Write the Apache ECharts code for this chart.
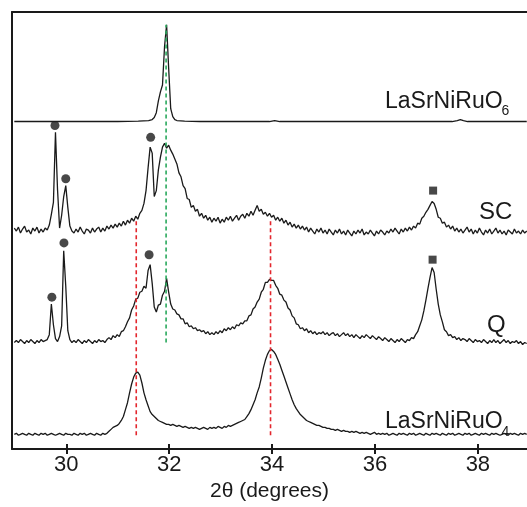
<!DOCTYPE html>
<html>
<head>
<meta charset="utf-8">
<script src="https://cdn.jsdelivr.net/npm/echarts@6/dist/echarts.min.js"></script>
<style>
  html, body { margin: 0; padding: 0; background: #ffffff; }
  #chart { width: 527px; height: 507px; }
</style>
</head>
<body>
<div id="chart"></div>
<script>
// XRD patterns, offset vertically (arbitrary intensity units).
// Scans share a uniform 2θ grid: start + step * index.
const twoThetaStart = 28.99;
const twoThetaStep = 0.04;
const xTicks = [30, 32, 34, 36, 38];

// LaSrNiRuO6 reference pattern (smooth), [2θ, intensity]
const lsnro6Points = [
  [28.99, 332], [29.5, 332], [30.0, 332], [30.5, 332], [31.0, 332], [31.4, 332.5],
  [31.6, 333], [31.67, 334], [31.71, 336], [31.75, 341], [31.79, 353], [31.83, 362],
  [31.87, 369], [31.91, 408], [31.95, 430], [31.99, 386], [32.03, 345], [32.07, 337],
  [32.11, 334], [32.15, 333], [32.3, 332.5], [32.6, 332], [33.5, 332], [33.95, 332],
  [34.05, 333], [34.15, 332], [35.0, 332], [36.0, 332], [37.5, 332], [37.6, 333],
  [37.66, 334], [37.72, 333], [37.8, 332], [38.95, 332]
];

// SC sample
const scCounts = [
  224, 221, 225, 219, 223, 226, 220, 222, 218, 224,
  221, 225, 219, 223, 220, 224, 222, 227, 238, 250,
  321, 263, 224, 237, 256, 267, 245, 226, 221, 219,
  223, 220, 225, 221, 218, 223, 222, 219, 224, 220,
  223, 225, 220, 224, 221, 226, 223, 227, 224, 228,
  225, 229, 226, 231, 227, 232, 229, 234, 231, 236,
  233, 239, 242, 249, 262, 285, 306, 300, 256, 262,
  283, 296, 306, 310, 305, 308, 303, 299, 294, 289,
  280, 276, 267, 264, 254, 253, 245, 247, 241, 243,
  236, 239, 234, 237, 232, 235, 230, 234, 231, 235,
  229, 233, 230, 235, 232, 236, 231, 234, 237, 232,
  236, 238, 234, 239, 236, 241, 237, 242, 247, 241,
  243, 238, 240, 236, 239, 235, 237, 232, 235, 231,
  234, 229, 232, 227, 230, 225, 228, 224, 227, 223,
  226, 222, 225, 220, 224, 221, 218, 223, 220, 224,
  219, 222, 218, 223, 220, 217, 222, 219, 223, 218,
  221, 217, 222, 219, 216, 221, 218, 222, 219, 223,
  217, 220, 218, 222, 219, 216, 221, 218, 222, 220,
  217, 221, 219, 223, 220, 224, 221, 218, 223, 220,
  224, 221, 225, 222, 226, 224, 229, 228, 234, 236,
  240, 243, 247, 251, 249, 243, 235, 234, 229, 230,
  225, 227, 223, 226, 221, 224, 220, 223, 219, 222,
  225, 220, 223, 218, 222, 219, 224, 220, 217, 222,
  219, 223, 218, 221, 224, 219, 222, 218, 221, 217,
  222, 220, 218, 223, 219, 221, 218, 222, 219, 221
];

// Q sample
const qCounts = [
  108, 110, 108, 111, 109, 107, 110, 108, 111, 109,
  107, 110, 108, 111, 109, 110, 111, 116, 147, 126,
  112, 109, 114, 125, 201, 165, 120, 111, 108, 110,
  108, 111, 109, 107, 110, 108, 111, 109, 107, 110,
  108, 111, 109, 110, 108, 111, 113, 111, 115, 113,
  116, 114, 119, 120, 124, 129, 133, 141, 145, 152,
  153, 159, 160, 165, 163, 181, 187, 168, 144, 139,
  146, 147, 156, 160, 173, 159, 147, 142, 141, 137,
  136, 132, 132, 127, 128, 124, 125, 122, 123, 120,
  121, 119, 120, 117, 119, 116, 118, 116, 119, 117,
  120, 118, 122, 120, 123, 121, 124, 122, 126, 125,
  128, 127, 130, 130, 135, 136, 142, 144, 149, 152,
  159, 162, 169, 169, 172, 171, 171, 166, 163, 157,
  156, 151, 149, 143, 141, 135, 133, 127, 126, 122,
  123, 120, 122, 118, 120, 117, 119, 116, 118, 117,
  119, 116, 118, 115, 117, 118, 115, 117, 114, 116,
  118, 115, 117, 114, 116, 113, 116, 114, 112, 115,
  113, 116, 114, 112, 115, 113, 111, 114, 112, 110,
  113, 111, 109, 112, 110, 108, 111, 109, 112, 110,
  108, 111, 110, 113, 112, 116, 119, 125, 131, 140,
  151, 163, 174, 184, 179, 162, 147, 136, 129, 121,
  119, 115, 116, 113, 114, 111, 113, 110, 112, 111,
  109, 112, 110, 108, 111, 109, 110, 108, 111, 109,
  107, 110, 108, 111, 108, 110, 107, 109, 111, 108,
  110, 107, 109, 108, 110, 107, 109, 106, 108, 107
];

// LaSrNiRuO4 reference pattern
const lsnro4Counts = [
  15, 16, 14, 15, 16, 15, 14, 16, 15, 14,
  16, 15, 14, 16, 15, 16, 14, 15, 16, 15,
  14, 15, 16, 15, 14, 16, 15, 15, 14, 16,
  15, 14, 16, 15, 16, 14, 15, 16, 15, 14,
  16, 15, 14, 16, 15, 16, 18, 20, 22, 23,
  24, 26, 29, 33, 40, 47, 57, 66, 73, 77,
  78, 75, 67, 57, 50, 44, 38, 35, 33, 31,
  29, 28, 27, 26, 25, 25, 24, 25, 24, 23,
  24, 23, 22, 23, 22, 21, 22, 21, 22, 21,
  20, 21, 22, 21, 20, 22, 21, 22, 21, 23,
  22, 21, 23, 22, 24, 23, 24, 25, 26, 27,
  28, 29, 30, 33, 36, 40, 45, 50, 57, 63,
  72, 82, 90, 96, 100, 101, 99, 96, 91, 86,
  80, 74, 68, 62, 56, 50, 45, 41, 38, 35,
  33, 31, 29, 28, 27, 26, 25, 24, 24, 23,
  22, 22, 21, 21, 20, 20, 19, 20, 19, 18,
  19, 18, 18, 17, 18, 17, 18, 17, 16, 17,
  16, 17, 16, 15, 16, 17, 15, 16, 15, 16,
  15, 16, 14, 15, 16, 15, 14, 16, 15, 16,
  15, 14, 16, 15, 16, 14, 15, 16, 15, 14,
  16, 15, 14, 16, 15, 16, 15, 14, 16, 15,
  14, 16, 15, 16, 14, 15, 16, 15, 14, 16,
  15, 16, 14, 15, 16, 15, 14, 16, 15, 16,
  15, 14, 16, 15, 16, 15, 14, 15, 16, 15,
  14, 16, 15, 16, 15, 14, 16, 15, 16, 15
];

// Guide lines (2θ positions and vertical extent)
const redGuides = [31.36, 33.97];
const redGuideSpan = [14, 234];
const greenGuides = [31.94];
const greenGuideSpan = [108, 430];

// Impurity reflections: circles and squares above peaks
const circleMarks = [[29.78, 328], [29.99, 274], [31.64, 316], [29.72, 154], [29.955, 209], [31.61, 197]];
const squareMarks = [[37.13, 262], [37.12, 192]];

const FONT = '"Liberation Sans", Arial, Helvetica, sans-serif';
const INK = '#1a1a1a';

const onGrid = counts => counts.map((v, i) => [+(twoThetaStart + twoThetaStep * i).toFixed(2), v]);

const traceStyle = { color: INK, width: 1.3 };
function trace(name, data) {
  return { name, type: 'line', data, symbol: 'none', showSymbol: false,
           lineStyle: traceStyle, z: 3, silent: true };
}
function guide(x, span, color) {
  return { type: 'line', data: [[x, span[0]], [x, span[1]]], symbol: 'none',
           lineStyle: { color, width: 1.6, type: [4, 3] }, z: 4, silent: true };
}

// text placed by its alphabetic baseline (zrender draws lines with a 'middle' baseline)
function textAt(text, left, baseline, size) {
  return { type: 'text', left, top: baseline - 0.3465 * size - size / 2, silent: true,
           style: { text, font: size + 'px ' + FONT, fill: INK } };
}

const chart = echarts.init(document.getElementById('chart'), null, { renderer: 'canvas' });

chart.setOption({
  animation: false,
  backgroundColor: '#ffffff',
  grid: { left: 12, right: 0, top: 12, bottom: 52, containLabel: false },
  xAxis: [
    {
      type: 'value', min: 28.945, max: 38.955, position: 'bottom',
      name: '2θ (degrees)', nameLocation: 'middle', nameGap: 25,
      nameTextStyle: { fontFamily: FONT, fontSize: 21, color: INK },
      axisLine: { show: true, lineStyle: { color: INK, width: 2 } },
      axisTick: { show: true, inside: false, length: 5, customValues: xTicks,
                  lineStyle: { color: INK, width: 2 } },
      axisLabel: { show: true, customValues: xTicks, margin: 5,
                   fontFamily: FONT, fontSize: 22, color: INK },
      splitLine: { show: false }
    },
    {
      type: 'value', min: 28.945, max: 38.955, position: 'bottom',
      axisLine: { show: false },
      axisTick: { show: true, inside: true, length: 5, customValues: xTicks,
                  lineStyle: { color: INK, width: 2 } },
      axisLabel: { show: false },
      splitLine: { show: false }
    },
    {
      type: 'value', min: 28.945, max: 38.955, position: 'top',
      axisLine: { show: true, lineStyle: { color: INK, width: 2 } },
      axisTick: { show: false }, axisLabel: { show: false }, splitLine: { show: false }
    }
  ],
  yAxis: {
    type: 'value', min: 0, max: 443,
    axisLine: { show: true, lineStyle: { color: INK, width: 2 } },
    axisTick: { show: false }, axisLabel: { show: false }, splitLine: { show: false }
  },
  series: [
    trace('LaSrNiRuO6', lsnro6Points),
    trace('SC', onGrid(scCounts)),
    trace('Q', onGrid(qCounts)),
    trace('LaSrNiRuO4', onGrid(lsnro4Counts)),
    ...redGuides.map(x => guide(x, redGuideSpan, '#e3262d')),
    ...greenGuides.map(x => guide(x, greenGuideSpan, '#28a85b')),
    { type: 'scatter', data: circleMarks, symbol: 'circle', symbolSize: 9,
      itemStyle: { color: INK }, z: 5, silent: true },
    { type: 'scatter', data: squareMarks, symbol: 'rect', symbolSize: 8,
      itemStyle: { color: INK }, z: 5, silent: true }
  ],
  graphic: [
    textAt('LaSrNiRuO', 385, 110, 23),
    textAt('6', 501.5, 115.7, 14),
    textAt('SC', 479, 221, 24),
    textAt('Q', 487, 334, 24),
    textAt('LaSrNiRuO', 385, 430, 23),
    textAt('4', 501.5, 437, 14)
  ]
});
</script>
</body>
</html>
